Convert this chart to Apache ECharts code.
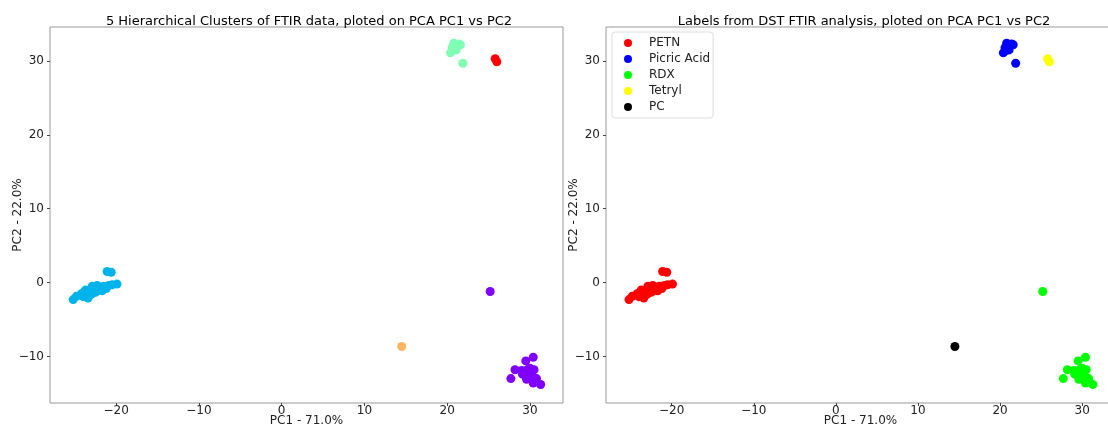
<!DOCTYPE html>
<html>
<head>
<meta charset="utf-8">
<script src="https://cdn.jsdelivr.net/npm/echarts@6/dist/echarts.min.js"></script>
<style>
html, body { margin: 0; padding: 0; background: #fff; }
#main { width: 1108px; height: 428px; }
</style>
</head>
<body>
<div id="main"></div>
<script>
// PCA scores (PC1, PC2), grouped by DST label
var petn = [[-25.2,-2.3],[-24.8,-1.85],[-24.2,-1.5],[-24.0,-1.9],[-23.9,-1.3],[-23.5,-1.75],
	[-23.4,-2.1],[-23.7,-1.0],[-23.2,-1.2],[-23.0,-1.6],[-22.9,-0.5],[-22.8,-0.9],[-22.7,-0.95],
	[-22.5,-1.3],[-22.3,-0.7],[-22.3,-0.4],[-22.0,-1.0],[-21.9,-0.7],[-21.7,-1.1],[-21.5,-0.5],
	[-21.2,-0.8],[-20.9,-0.4],[-20.5,-0.3],[-19.9,-0.2],[-21.1,1.5],[-20.6,1.4]];
var picric = [[20.8,32.4],[21.4,32.3],[21.6,32.2],[21.2,32.0],[21.0,31.8],[20.6,31.8],
	[20.4,31.1],[20.7,31.4],[21.1,31.5],[20.9,32.1],[21.9,29.7]];
var rdx = [[25.2,-1.2],[29.5,-10.6],[30.4,-10.1],[28.2,-11.8],[27.7,-13.0],[29.1,-12.4],
	[29.7,-11.8],[30.1,-12.7],[30.5,-11.8],[30.8,-13.0],[31.3,-13.8],[30.4,-13.6],[29.9,-12.9],
	[29.5,-12.6],[29.0,-11.9],[29.8,-12.2],[30.2,-12.4],[29.3,-12.0],[30.0,-11.6],[29.6,-13.1]];
var tetryl = [[25.8,30.3],[26.0,29.9]];
var pc = [[14.5,-8.65]];

// hierarchical clusters (same points, cluster colours from rainbow map)
var clusterData = [petn, picric, tetryl, rdx, pc];
var clusterColors = ['#00b4eb', '#80ffb4', '#ff0000', '#8000ff', '#ffb462'];

var labelNames = ['PETN', 'Picric Acid', 'RDX', 'Tetryl', 'PC'];
var labelData = [petn, picric, rdx, tetryl, pc];
var labelColors = ['#ff0000', '#0000ff', '#00ff00', '#ffff00', '#000000'];

var FONT = 'DejaVu Sans';

function minus(v) { return String(v).replace('-', '\u2212'); }

function xAx(idx) {
	return {
		gridIndex: idx, type: 'value', min: -28, max: 34,
		name: 'PC1 - 71.0%', nameLocation: 'middle', nameGap: 12, nameMoveOverlap: false,
		nameTextStyle: { fontFamily: FONT, fontSize: 12, color: '#222' },
		axisLine: { show: false, onZero: false },
		axisTick: { show: true, inside: false, length: 3, lineStyle: { color: '#444' } },
		axisLabel: { fontFamily: FONT, fontSize: 12, color: '#222', margin: 2,
			showMinLabel: false, showMaxLabel: false, formatter: minus },
		splitLine: { show: false }
	};
}
function yAx(idx) {
	return {
		gridIndex: idx, type: 'value', min: -16.3, max: 34.6,
		name: 'PC2 - 22.0%', nameLocation: 'middle', nameGap: 26, nameRotate: 90, nameMoveOverlap: false,
		nameTextStyle: { fontFamily: FONT, fontSize: 12, color: '#222' },
		axisLine: { show: false, onZero: false },
		axisTick: { show: true, inside: false, length: 3, lineStyle: { color: '#444' } },
		axisLabel: { fontFamily: FONT, fontSize: 12, color: '#222', margin: 6,
			showMinLabel: false, showMaxLabel: false, formatter: minus },
		splitLine: { show: false }
	};
}

var series = [];
for (var i = 0; i < clusterData.length; i++) {
	series.push({
		type: 'scatter', xAxisIndex: 0, yAxisIndex: 0, symbolSize: 9,
		itemStyle: { color: clusterColors[i], opacity: 1 },
		data: clusterData[i]
	});
}
for (var j = 0; j < labelData.length; j++) {
	series.push({
		name: labelNames[j], type: 'scatter', xAxisIndex: 1, yAxisIndex: 1, symbolSize: 9,
		itemStyle: { color: labelColors[j], opacity: 1 },
		data: labelData[j]
	});
}

var chart = echarts.init(document.getElementById('main'));
chart.setOption({
	animation: false,
	backgroundColor: '#fff',
	title: [
		{ text: '5 Hierarchical Clusters of FTIR data, ploted on PCA PC1 vs PC2', left: 304, top: 10,
			textAlign: 'center', textStyle: { fontFamily: FONT, fontSize: 13, fontWeight: 'normal', color: '#000' } },
		{ text: 'Labels from DST FTIR analysis, ploted on PCA PC1 vs PC2', left: 859, top: 10,
			textAlign: 'center', textStyle: { fontFamily: FONT, fontSize: 13, fontWeight: 'normal', color: '#000' } }
	],
	legend: {
		data: labelNames, left: 612, top: 32, orient: 'vertical', icon: 'circle',
		itemWidth: 8, itemHeight: 8, itemGap: 4,
		padding: [5, 3, 5, 12],
		borderColor: '#ddd', borderWidth: 1, borderRadius: 3, backgroundColor: '#fff',
		textStyle: { fontFamily: FONT, fontSize: 12, lineHeight: 12, color: '#222', padding: [0, 0, 0, 12] }
	},
	grid: [
		{ left: 50, top: 27, width: 513, height: 376, show: true, borderColor: '#999', borderWidth: 1, outerBoundsMode: 'none' },
		{ left: 606, top: 27, width: 509, height: 376, show: true, borderColor: '#999', borderWidth: 1, outerBoundsMode: 'none' }
	],
	xAxis: [xAx(0), xAx(1)],
	yAxis: [yAx(0), yAx(1)],
	series: series
});
</script>
</body>
</html>
